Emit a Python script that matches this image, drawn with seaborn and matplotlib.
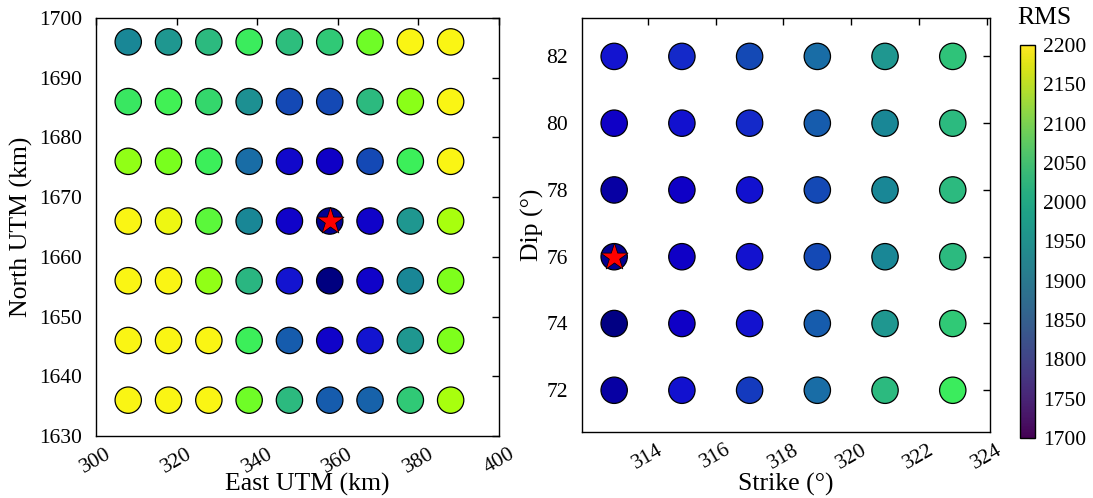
import numpy as np
import pandas as pd
import matplotlib
matplotlib.use("Agg")
import matplotlib.pyplot as plt
import seaborn as sns
from matplotlib.colors import LinearSegmentedColormap, Normalize
from matplotlib.cm import ScalarMappable

sns.set_style("white")
plt.rcParams['font.family'] = ['Liberation Serif', 'DejaVu Serif']
plt.rcParams['text.color'] = 'black'
plt.rcParams['axes.labelcolor'] = 'black'

# ---- data ----
east = [308, 318, 328, 338, 348, 358, 368, 378, 388]
north = [1696, 1686, 1676, 1666, 1656, 1646, 1636]
rms_left = [
    [1910, 1935, 1985, 2035, 1990, 2000, 2090, 2200, 2200],
    [2030, 2045, 2015, 1925, 1850, 1850, 1985, 2115, 2200],
    [2120, 2100, 2040, 1880, 1800, 1790, 1850, 2040, 2200],
    [2200, 2190, 2070, 1910, 1795, 1760, 1795, 1935, 2140],
    [2200, 2200, 2120, 1980, 1815, 1750, 1795, 1910, 2105],
    [2200, 2200, 2200, 2040, 1865, 1795, 1815, 1935, 2105],
    [2200, 2200, 2200, 2090, 1985, 1865, 1870, 2000, 2140],
]
best_left = (358, 1666)

strike = [313, 315, 317, 319, 321, 323]
dip = [82, 80, 78, 76, 74, 72]
rms_right = [
    [1815, 1830, 1850, 1880, 1935, 1995],
    [1790, 1810, 1830, 1865, 1910, 1985],
    [1770, 1790, 1810, 1850, 1910, 1985],
    [1760, 1790, 1812, 1850, 1910, 1985],
    [1752, 1790, 1812, 1865, 1935, 2000],
    [1770, 1810, 1840, 1880, 1985, 2035],
]
best_right = (313, 76)

cbar_ticks = list(range(1700, 2201, 50))

# colour scale used by the markers
anchor_vals = [1750, 1790, 1820, 1850, 1880, 1910, 1950, 1990, 2040, 2100, 2150, 2200]
anchor_cols = [(0, 0, 128), (15, 0, 200), (20, 25, 210), (20, 75, 180), (25, 110, 165),
               (25, 135, 150), (35, 160, 140), (45, 190, 125), (60, 240, 90),
               (120, 255, 30), (180, 255, 10), (250, 245, 20)]
vmin_m, vmax_m = anchor_vals[0], anchor_vals[-1]
marker_cmap = LinearSegmentedColormap.from_list(
    "rmsmarker",
    [((v - vmin_m) / (vmax_m - vmin_m), tuple(c / 255 for c in col))
     for v, col in zip(anchor_vals, anchor_cols)])

df_left = pd.DataFrame([(e, n, rms_left[i][j]) for i, n in enumerate(north)
                        for j, e in enumerate(east)], columns=["east", "north", "rms"])
df_right = pd.DataFrame([(s, d, rms_right[i][j]) for i, d in enumerate(dip)
                         for j, s in enumerate(strike)], columns=["strike", "dip", "rms"])

fig = plt.figure(figsize=(10.93, 4.98), dpi=100)
W, H = 1093, 498
axL = fig.add_axes([96 / W, 1 - 436 / H, (499 - 96) / W, (436 - 18) / H])
axR = fig.add_axes([582 / W, 1 - 432 / H, (990 - 582) / W, (432 - 18) / H])
cax = fig.add_axes([1020 / W, 1 - 438 / H, 15 / W, (438 - 45) / H])

msize = 360
star_size = 420
sns.scatterplot(data=df_left, x="east", y="north", hue="rms", palette=marker_cmap,
                hue_norm=(vmin_m, vmax_m), s=msize, edgecolor="black", linewidth=0.9,
                legend=False, ax=axL, zorder=3)
axL.scatter([best_left[0]], [best_left[1]], marker="*", s=star_size, c="red",
            edgecolors="black", linewidths=0.5, zorder=4)
axL.set_xlim(300, 400)
axL.set_ylim(1630, 1700)
axL.set_xticks(range(300, 401, 20))
axL.set_yticks(range(1630, 1701, 10))
axL.set_xlabel("East UTM (km)", fontsize=18.5)
axL.set_ylabel("North UTM (km)", fontsize=18.5, labelpad=4)

sns.scatterplot(data=df_right, x="strike", y="dip", hue="rms", palette=marker_cmap,
                hue_norm=(vmin_m, vmax_m), s=msize, edgecolor="black", linewidth=0.9,
                legend=False, ax=axR, zorder=3)
axR.scatter([best_right[0]], [best_right[1]], marker="*", s=star_size, c="red",
            edgecolors="black", linewidths=0.5, zorder=4)
axR.set_xlim(312.05, 324.1)
axR.set_ylim(70.75, 83.15)
axR.set_xticks(range(314, 325, 2))
axR.set_yticks(range(72, 83, 2))
axR.set_xlabel("Strike (°)", fontsize=18.5)
axR.set_ylabel("Dip (°)", fontsize=18.5, labelpad=2)

for ax in (axL, axR):
    ax.tick_params(direction="in", top=True, right=True, labelsize=15.5, length=5,
                   width=1, colors="black")
    ax.tick_params(axis="y", pad=10)
    ax.tick_params(axis="x", pad=6)
    for lab in ax.get_xticklabels():
        lab.set_rotation(30)
    for sp in ax.spines.values():
        sp.set_color("black")
        sp.set_linewidth(1)
    ax.set_facecolor("white")

axL.xaxis.set_label_coords(0.524, -0.088)
axR.xaxis.set_label_coords(0.5, -0.1)

sm = ScalarMappable(norm=Normalize(1700, 2200), cmap="viridis")
cb = fig.colorbar(sm, cax=cax, ticks=cbar_ticks)
cb.ax.tick_params(direction="in", labelsize=15.5, length=4, colors="black", pad=6)
cb.outline.set_linewidth(1)
cb.outline.set_edgecolor("black")
fig.text(1044 / W, 1 - 18 / H, "RMS", fontsize=18.5, ha="center", va="center")

fig.savefig("out.png", dpi=100, facecolor="white")
